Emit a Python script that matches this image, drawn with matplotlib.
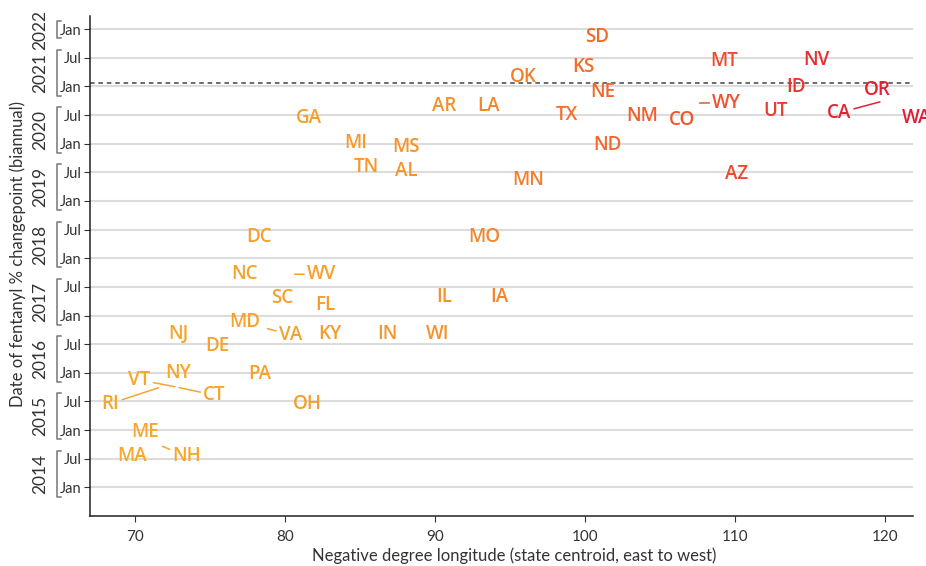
import matplotlib
matplotlib.use('Agg')
import numpy as np
import matplotlib.pyplot as plt
from matplotlib.colors import LinearSegmentedColormap, Normalize
from matplotlib.transforms import blended_transform_factory

# state, longitude (neg. degrees), changepoint date (decimal year)
states = ['SD', 'MT', 'NV', 'KS', 'OK', 'ID', 'OR', 'NE', 'AR', 'LA',
          'TX', 'NM', 'CO', 'UT', 'WA', 'GA', 'MI', 'MS', 'ND', 'TN',
          'AL', 'AZ', 'MN', 'DC', 'MO', 'NC', 'SC', 'IL', 'IA', 'FL',
          'MD', 'NJ', 'KY', 'IN', 'WI', 'DE', 'NY', 'PA', 'OH', 'ME',
          'MA', 'RI', 'VT', 'CT', 'NH', 'WV', 'VA', 'WY', 'CA']
longitude = [100.8, 109.3, 115.4, 99.9, 95.9, 114.1, 119.5, 101.2, 90.6, 93.6,
             98.8, 103.8, 106.5, 112.7, 122.1, 81.6, 84.7, 88.1, 101.5, 85.4,
             88.1, 110.1, 96.2, 78.3, 93.3, 77.3, 79.8, 90.6, 94.3, 82.7,
             77.3, 72.9, 83.0, 86.8, 90.2, 75.5, 72.9, 78.3, 81.5, 70.7,
             69.8, 71.7, 72.8, 72.8, 71.7, 80.5, 78.7, 107.5, 119.8]
changepoint = [2021.91, 2021.49, 2021.51, 2021.39, 2021.20, 2021.04, 2020.99, 2020.95, 2020.71, 2020.71,
               2020.55, 2020.53, 2020.46, 2020.62, 2020.50, 2020.50, 2020.06, 2019.99, 2020.03, 2019.64,
               2019.57, 2019.52, 2019.41, 2018.42, 2018.42, 2017.77, 2017.35, 2017.37, 2017.37, 2017.23,
               2016.93, 2016.72, 2016.72, 2016.72, 2016.72, 2016.52, 2016.04, 2016.03, 2015.50, 2015.01,
               2014.59, 2015.75, 2015.75, 2015.75, 2014.73, 2017.72, 2016.78, 2020.71, 2020.74]
reference_date = 2021.06
years = list(range(2014, 2023))

# labels pushed away from their point (offset in points), drawn with a segment
repel = {'RI': (-36, -10), 'VT': (-27, 7), 'CT': (27, -4), 'NH': (19, -6),
         'WV': (21, 2), 'VA': (18, -3), 'WY': (21, 2), 'CA': (-31, -6.5)}

cmap = LinearSegmentedColormap.from_list('lon', [
    (0.00, '#F7A92B'), (0.24, '#F6A02C'), (0.42, '#F5922B'),
    (0.52, '#F4802B'), (0.62, '#F2692B'), (0.78, '#EC4A2D'),
    (0.91, '#E6282F'), (1.00, '#E31C35')])
norm = Normalize(67, 122)

plt.rcParams['font.family'] = ['Lato', 'DejaVu Sans']
label_font = dict(fontsize=13.5, fontweight='semibold',
                  family=['Open Sans', 'DejaVu Sans'], ha='center',
                  va='center_baseline')

fig = plt.figure(figsize=(9.26, 5.66), dpi=100)
ax = fig.add_axes([90 / 926, 50 / 566, 823 / 926, 500 / 566])
ax.set_xlim(67.0, 121.87)
ax.set_ylim(2013.5, 2022.23)

ticks = np.arange(2014, 2022.01, 0.5)
for t in ticks:
    ax.axhline(t, color='#dcdcdc', lw=1.5, zorder=0)
ax.axhline(reference_date, color='#444444', lw=1.1, ls=(0, (3, 2.5)), zorder=1)

for s, x, y in zip(states, longitude, changepoint):
    c = cmap(norm(x))
    if s in repel:
        ax.annotate(s, xy=(x, y), xytext=repel[s], textcoords='offset points',
                    color=c, annotation_clip=False,
                    arrowprops=dict(arrowstyle='-', color=c, lw=1.1,
                                    shrinkA=0, shrinkB=1.5), **label_font)
    else:
        ax.text(x, y, s, color=c, **label_font)

ax.set_yticks(ticks)
ax.set_yticklabels(['Jan' if t % 1 == 0 else 'Jul' for t in ticks],
                   fontsize=10.5, color='#333333')
ax.set_xticks(range(70, 121, 10))
ax.tick_params(axis='x', labelsize=11, labelcolor='#333333', length=4,
               color='#333333', pad=6)
ax.tick_params(axis='y', length=4, color='#333333', pad=2)

# year brackets on the y axis
tr = blended_transform_factory(ax.transAxes, ax.transData)
bx = -0.040
for yr in years:
    top = yr + 0.5 if yr < 2022 else yr
    lo, hi = yr - 0.16, top + 0.14
    ax.plot([bx + 0.005, bx, bx, bx + 0.005], [lo, lo, hi, hi], transform=tr,
            color='#777777', lw=1.1, clip_on=False)
    ax.text(bx - 0.011, (lo + hi) / 2, str(yr), transform=tr, rotation=90,
            ha='right', va='center', fontsize=12.5, color='#333333')

for side in ['top', 'right']:
    ax.spines[side].set_visible(False)
for side in ['left', 'bottom']:
    ax.spines[side].set_color('#222222')
    ax.spines[side].set_linewidth(1.1)

fig.text(18 / 926, 1 - 254 / 566, 'Date of fentanyl % changepoint (biannual)',
         rotation=90, ha='center', va='center', fontsize=12, color='#333333')
fig.text(514 / 926, 1 - 556 / 566,
         'Negative degree longitude (state centroid, east to west)',
         ha='center', va='center', fontsize=12, color='#333333')

fig.savefig('out.png', dpi=100)
